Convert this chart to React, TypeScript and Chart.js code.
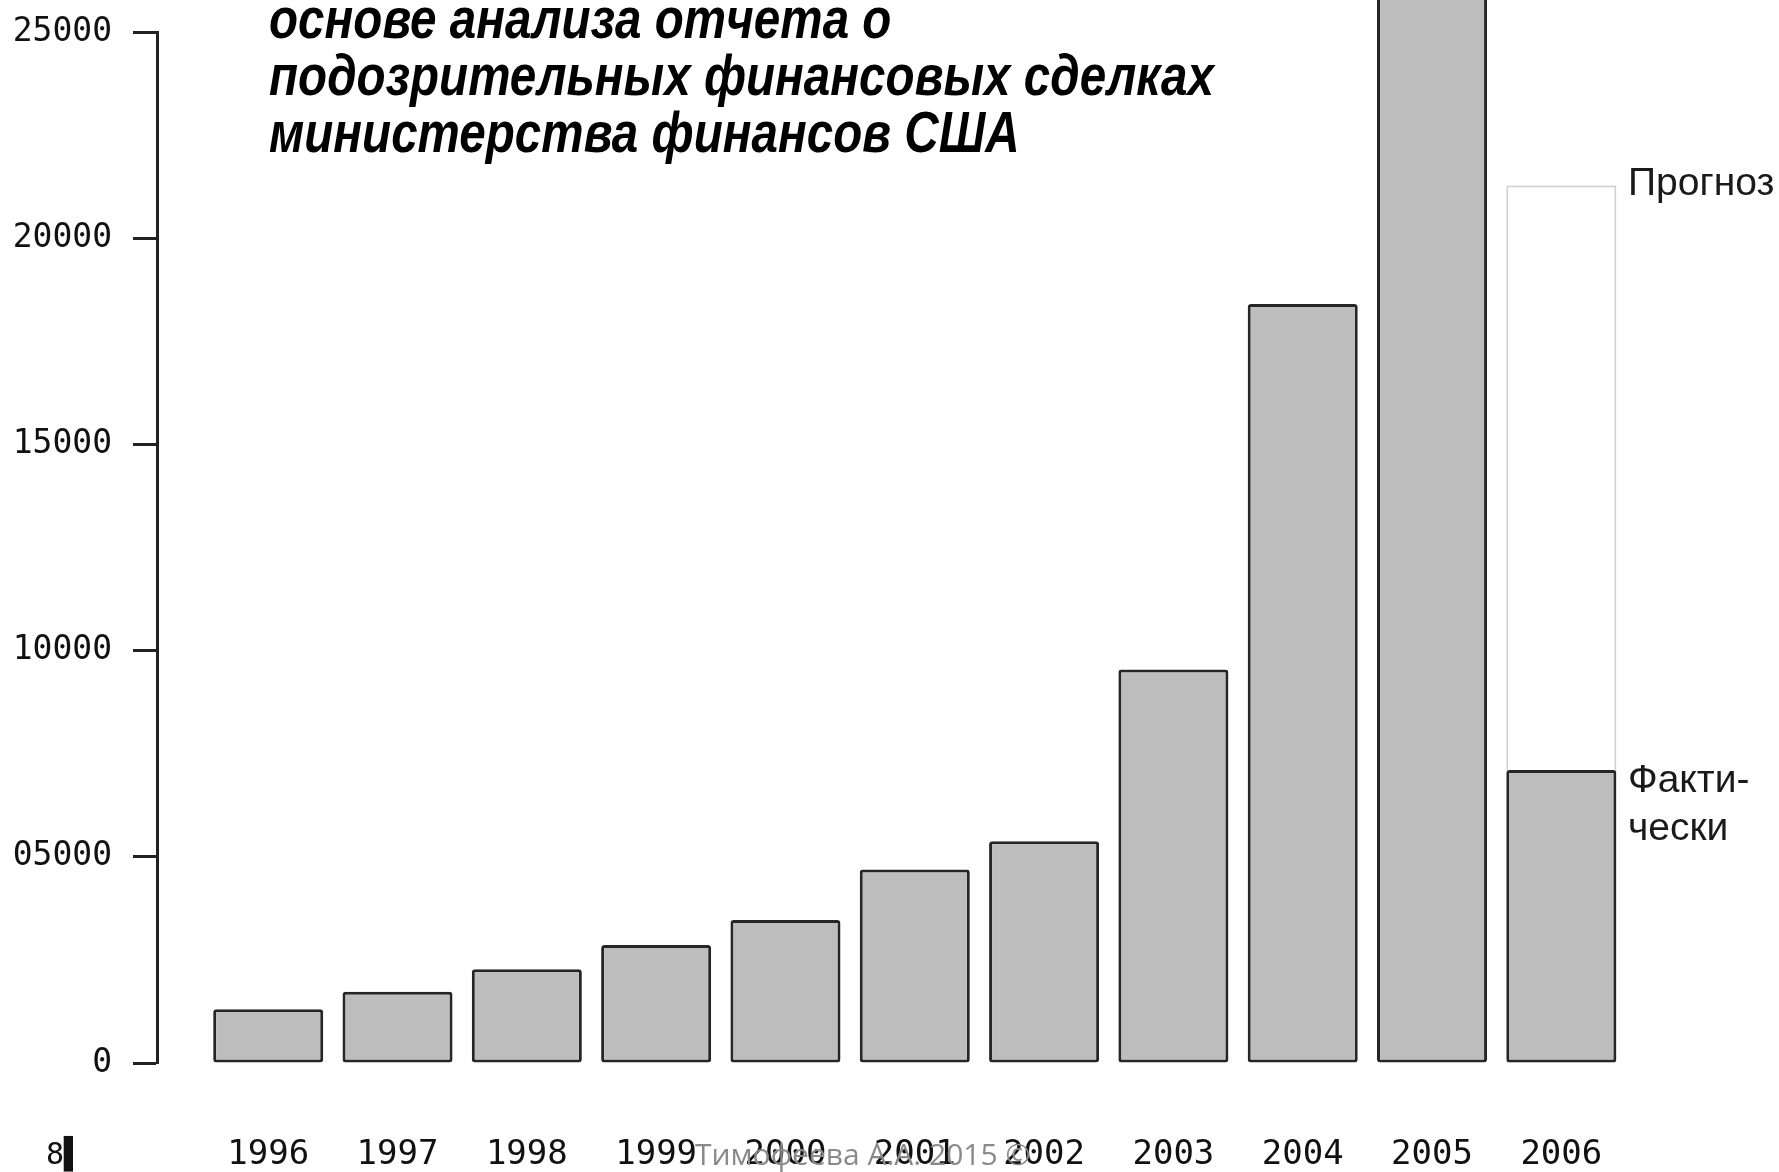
import { useEffect, useRef } from 'react';
import { Chart, registerables } from 'chart.js';

Chart.register(...registerables);

// ---- data ----
const years = [1996, 1997, 1998, 1999, 2000, 2001, 2002, 2003, 2004, 2005, 2006];
const actualValues = [1306, 1726, 2275, 2862, 3466, 4690, 5375, 9543, 18404, 26500, 7103];
const forecastValues = [null, null, null, null, null, null, null, null, null, null, 21277];
const yTickValues = [0, 5000, 10000, 15000, 20000, 25000];
const yTickLabels = ['0', '05000', '10000', '15000', '20000', '25000'];
const titleLines = ['основе анализа отчета о', 'подозрительных финансовых сделках', 'министерства финансов США'];
const forecastLabel = 'Прогноз';
const actualLabelLines = ['Факти-', 'чески'];
const watermark = 'Тимофеева А.А. 2015 ©';
const cornerLabel = '8▌';

const W = 1779;
const H = 1172;
const monoFont = '"DejaVu Sans Mono", "Liberation Mono", monospace';

const textPlugin = {
  id: 'textPlugin',
  afterDraw(chart: any) {
    const ctx = chart.ctx as CanvasRenderingContext2D;
    const y = chart.scales.y;
    ctx.save();
    // Title
    ctx.fillStyle = '#000';
    ctx.textBaseline = 'alphabetic';
    ctx.textAlign = 'left';
    ctx.font = 'italic bold 55px "Liberation Sans", Arial, sans-serif';
    const wMid = ctx.measureText(titleLines[1]).width;
    const sx = 945 / wMid;
    const baselines = [38, 95, 152];
    titleLines.forEach((line, i) => {
      ctx.save();
      ctx.translate(269, baselines[i]);
      ctx.scale(sx, 1.06);
      ctx.fillText(line, 0, 0);
      ctx.restore();
    });

    // Side labels
    ctx.fillStyle = '#1a1a1a';
    ctx.font = '39px "Liberation Sans", Arial, sans-serif';
    ctx.textBaseline = 'middle';
    ctx.fillText(forecastLabel, 1628, y.getPixelForValue(forecastValues[10] as number) - 1);
    const actTop = y.getPixelForValue(actualValues[10]);
    ctx.fillText(actualLabelLines[0], 1628, actTop + 11);
    ctx.fillText(actualLabelLines[1], 1628, actTop + 59);

    // Corner label
    ctx.fillStyle = '#111';
    ctx.font = '30px ' + monoFont;
    ctx.fillText(cornerLabel, 46, 1156);

    // Watermark
    ctx.fillStyle = '#8a8a8a';
    ctx.font = '30px "Open Sans", "Noto Sans", sans-serif';
    ctx.fillText(watermark, 695, 1156);
    ctx.restore();
  },
};

export default function App() {
  const ref = useRef<HTMLCanvasElement | null>(null);

  useEffect(() => {
    document.body.style.margin = '0';
    const canvas = ref.current!;
    const chart = new Chart(canvas, {
      type: 'bar',
      data: {
        labels: years,
        datasets: [
          {
            label: 'Фактически',
            data: actualValues,
            backgroundColor: '#bdbdbd',
            borderColor: '#262626',
            borderWidth: 3,
            borderSkipped: false,
            borderRadius: 3,
            clip: false as any,
          },
          {
            label: 'Прогноз',
            data: forecastValues,
            backgroundColor: '#ffffff',
            borderColor: '#cfcfcf',
            borderWidth: 2,
            borderSkipped: false,
            clip: false as any,
          },
        ],
      },
      options: {
        animation: false,
        responsive: false,
        maintainAspectRatio: false,
        layout: { padding: { top: 32, right: 153, left: 0, bottom: 0 } },
        datasets: {
          bar: {
            grouped: false,
            categoryPercentage: 1,
            barPercentage: 0.851,
          },
        },
        plugins: {
          legend: { display: false },
          tooltip: { enabled: false },
          title: { display: false },
        },
        scales: {
          x: {
            type: 'linear',
            offset: false,
            min: 1995.14,
            max: 2006.5,
            grid: { display: false, drawTicks: false, offset: false },
            border: { display: false },
            ticks: {
              stepSize: 1,
              includeBounds: false,
              autoSkip: false,
              maxRotation: 0,
              maxTicksLimit: 30,
              padding: 72,
              color: '#111',
              font: { family: monoFont, size: 34 },
              callback: (v: any) => (years.includes(v) ? String(v) : ''),
            },
            afterFit: (s: any) => {
              s.height = H - 1063;
              s.paddingLeft = 0;
              s.paddingRight = 0;
            },
          },
          y: {
            min: 0,
            max: 25000,
            grid: {
              drawOnChartArea: false,
              drawTicks: true,
              tickLength: 24,
              tickWidth: 3,
              tickColor: '#222',
            },
            border: { display: true, width: 3, color: '#222' },
            afterBuildTicks: (s: any) => {
              s.ticks = yTickValues.map((v) => ({ value: v }));
            },
            ticks: {
              padding: 21,
              color: '#111',
              font: { family: monoFont, size: 33 },
              callback: (v: any) => {
                const i = yTickValues.indexOf(v);
                return i >= 0 ? yTickLabels[i] : '';
              },
            },
            afterFit: (s: any) => {
              s.width = 157;
              s.paddingTop = 0;
              s.paddingBottom = 0;
            },
          },
        },
      } as any,
      plugins: [textPlugin],
    });
    return () => chart.destroy();
  }, []);

  return (
    <div style={{ position: 'absolute', left: 0, top: 0, width: W, height: H, background: '#fff' }}>
      <canvas ref={ref} width={W} height={H} style={{ display: 'block' }} />
    </div>
  );
}
